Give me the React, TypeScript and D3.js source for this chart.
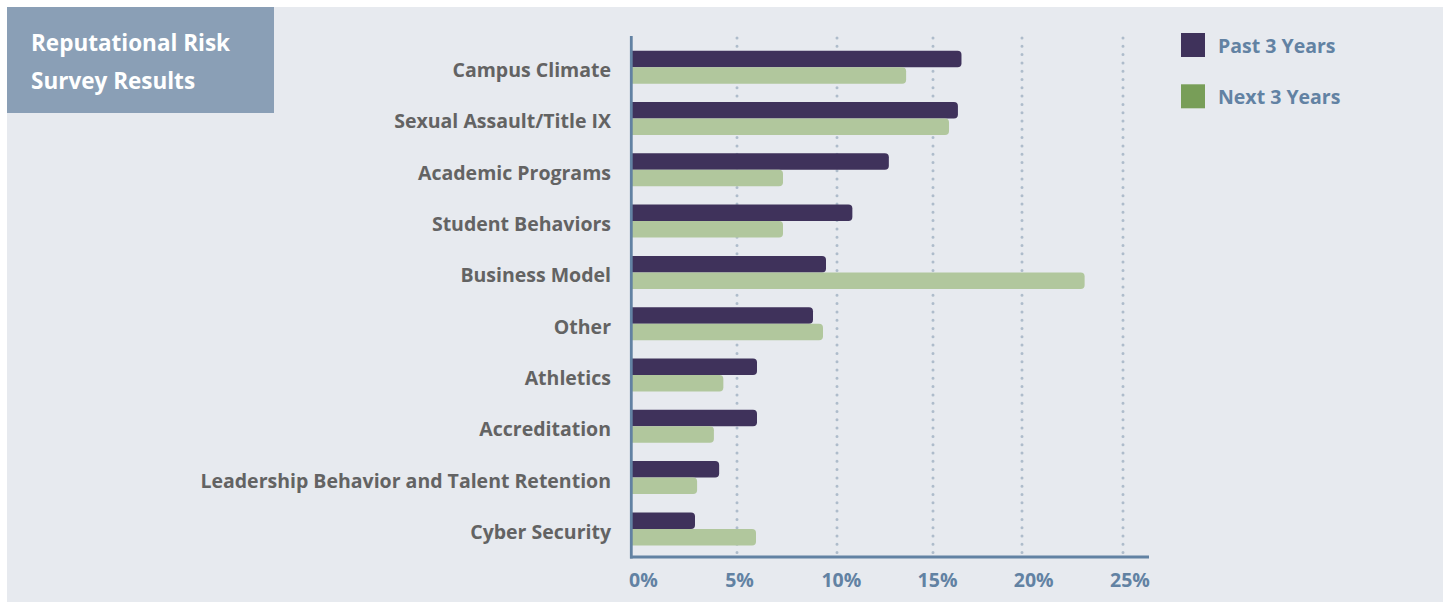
import React from "react";
import * as d3 from "d3";

const categories = [
  "Campus Climate",
  "Sexual Assault/Title IX",
  "Academic Programs",
  "Student Behaviors",
  "Business Model",
  "Other",
  "Athletics",
  "Accreditation",
  "Leadership Behavior and Talent Retention",
  "Cyber Security",
];
const past3Years = [16.6, 16.4, 12.7, 10.8, 9.45, 8.8, 6.0, 6.0, 4.15, 3.0];
const next3Years = [13.6, 15.9, 7.3, 7.3, 23.1, 9.3, 4.35, 3.9, 3.1, 5.95];
const tickValues = [0, 5, 10, 15, 20, 25];
const tickLabels = ["0%", "5%", "10%", "15%", "20%", "25%"];
const seriesNames = ["Past 3 Years", "Next 3 Years"];
const title = ["Reputational Risk", "Survey Results"];

const W = 1450;
const H = 609;
const FONT = "'Open Sans', Lato, sans-serif";
const BG = "#e7eaef";
const DARK = "#3f325b";
const GREEN_BAR = "#b1c79d";
const GREEN_KEY = "#789e58";
const AXIS = "#6282a3";
const LABEL = "#636363";
const GRID = "#aebccb";

function barPath(x0: number, y: number, w: number, h: number, r: number) {
  const rr = Math.min(r, w, h / 2);
  return `M${x0},${y}H${x0 + w - rr}A${rr},${rr} 0 0 1 ${x0 + w},${y + rr}V${y + h - rr}A${rr},${rr} 0 0 1 ${x0 + w - rr},${y + h}H${x0}Z`;
}

export default function App() {
  // polylinear scale following the drawn grid of the original
  const x = d3
    .scaleLinear()
    .domain(tickValues)
    .range([632, 737, 837, 933, 1022, 1123]);
  const xLabel = d3.scaleLinear().domain([0, 25]).range([629, 1110]);
  const y = d3
    .scaleBand<string>()
    .domain(categories)
    .range([50.7, 545.4])
    .paddingInner(0.357)
    .paddingOuter(0);
  const inner = d3
    .scaleBand<string>()
    .domain(seriesNames)
    .range([0, y.bandwidth()]);
  const colors = d3.scaleOrdinal<string, string>().domain(seriesNames).range([DARK, GREEN_BAR]);
  const keyColors = d3.scaleOrdinal<string, string>().domain(seriesNames).range([DARK, GREEN_KEY]);
  const seriesData = [past3Years, next3Years];

  return (
    <svg
      width={W}
      height={H}
      style={{ position: "absolute", left: 0, top: 0 }}
      fontFamily={FONT}
    >
      <rect x={0} y={0} width={W} height={H} fill="#ffffff" />
      <rect x={7} y={7} width={W - 14} height={H - 14} fill={BG} />

      {/* title box */}
      <rect x={7} y={7} width={267} height={106} fill="#8a9fb6" />
      {title.map((t, i) => (
        <text
          key={t}
          x={31}
          y={51 + i * 37.5}
          fill="#ffffff"
          fontSize={22.5}
          fontWeight={700}
        >
          {t}
        </text>
      ))}

      {/* grid lines */}
      {tickValues.slice(1).map((v) => (
        <line
          key={v}
          x1={x(v)}
          x2={x(v)}
          y1={38}
          y2={553}
          stroke={GRID}
          strokeWidth={3}
          strokeLinecap="round"
          strokeDasharray="0 8.3"
        />
      ))}

      {/* bars */}
      {categories.map((c, i) => (
        <g key={c}>
          {seriesNames.map((s, j) => {
            const v = seriesData[j][i];
            const y0 = (y(c) as number) + (inner(s) as number);
            return (
              <path
                key={s}
                d={barPath(x(0), y0, x(v) - x(0), inner.bandwidth(), 4)}
                fill={colors(s)}
              />
            );
          })}
          <text
            x={611}
            y={(y(c) as number) + y.bandwidth() / 2 + 10}
            textAnchor="end"
            fill={LABEL}
            fontSize={19.5}
            fontWeight={700}
          >
            {c}
          </text>
        </g>
      ))}

      {/* axes */}
      <line x1={631.3} x2={631.3} y1={36} y2={558.5} stroke={AXIS} strokeWidth={2.8} />
      <line x1={630} x2={1149} y1={557} y2={557} stroke={AXIS} strokeWidth={3} />
      {tickValues.map((v, i) => (
        <text
          key={v}
          x={xLabel(v)}
          y={587}
          fill={AXIS}
          fontSize={19.5}
          fontWeight={700}
        >
          {tickLabels[i]}
        </text>
      ))}

      {/* legend */}
      {seriesNames.map((s, i) => (
        <g key={s} transform={`translate(1181,${33 + i * 51.3})`}>
          <rect x={0} y={0} width={24} height={24} fill={keyColors(s)} />
          <text x={37} y={20} fill={AXIS} fontSize={19.5} fontWeight={700}>
            {s}
          </text>
        </g>
      ))}
    </svg>
  );
}
